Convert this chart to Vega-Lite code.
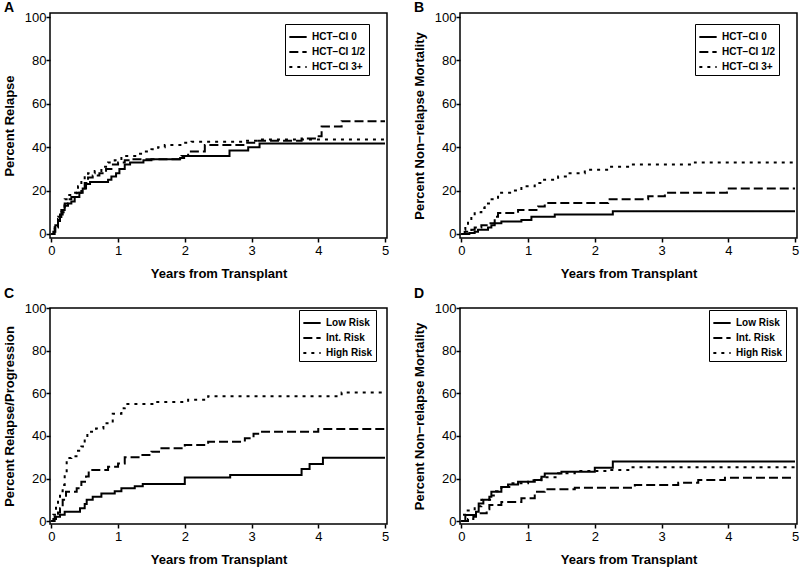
{
  "$schema": "https://vega.github.io/schema/vega-lite/v6.json",
  "background": "white",
  "padding": {"left": 2, "top": 0, "right": 2, "bottom": 2},
  "bounds": "flush",
  "columns": 2,
  "spacing": {"row": 70, "column": 73},
  "resolve": {"scale": {"strokeDash": "independent", "x": "independent", "y": "independent"}, "legend": {"strokeDash": "independent"}, "axis": {"x": "independent", "y": "independent"}},
  "config": {
    "font": "Liberation Sans",
    "view": {"stroke": "black", "strokeWidth": 1.5},
    "axis": {
      "domain": false, "grid": false,
      "tickColor": "black", "tickSize": 4, "tickWidth": 1.5,
      "labelFont": "Liberation Sans", "labelFontSize": 13, "labelColor": "black", "labelPadding": 2,
      "titleFont": "Liberation Sans", "titleFontSize": 13, "titleFontWeight": "bold", "titleColor": "black", "titlePadding": 10
    },
    "axisY": {"labelPadding": 0, "titlePadding": 8},
    "legend": {
      "orient": "none", "title": null,
      "strokeColor": "black", "fillColor": "white", "padding": 3, "rowPadding": 0,
      "labelFont": "Liberation Sans", "labelFontSize": 10, "labelFontWeight": "bold", "labelColor": "black", "labelOffset": 4,
      "symbolType": "stroke", "symbolStrokeWidth": 2, "symbolSize": 300, "symbolStrokeColor": "black"
    },
    "title": {"anchor": "start", "frame": "group", "fontSize": 14, "fontWeight": "bold", "font": "Liberation Sans", "color": "black", "dx": -46, "baseline": "alphabetic"}
  },
  "datasets": {
    "A": [
      {"g": "HCT−CI 0", "t": 0, "p": 0}, {"g": "HCT−CI 0", "t": 0.03, "p": 1}, {"g": "HCT−CI 0", "t": 0.06, "p": 4}, {"g": "HCT−CI 0", "t": 0.1, "p": 6}, {"g": "HCT−CI 0", "t": 0.13, "p": 9}, {"g": "HCT−CI 0", "t": 0.17, "p": 11}, {"g": "HCT−CI 0", "t": 0.2, "p": 13}, {"g": "HCT−CI 0", "t": 0.25, "p": 14}, {"g": "HCT−CI 0", "t": 0.3, "p": 15}, {"g": "HCT−CI 0", "t": 0.35, "p": 17}, {"g": "HCT−CI 0", "t": 0.42, "p": 19}, {"g": "HCT−CI 0", "t": 0.47, "p": 21}, {"g": "HCT−CI 0", "t": 0.52, "p": 23}, {"g": "HCT−CI 0", "t": 0.58, "p": 24}, {"g": "HCT−CI 0", "t": 0.85, "p": 25}, {"g": "HCT−CI 0", "t": 0.9, "p": 26.5}, {"g": "HCT−CI 0", "t": 0.97, "p": 28}, {"g": "HCT−CI 0", "t": 1.02, "p": 30}, {"g": "HCT−CI 0", "t": 1.1, "p": 32}, {"g": "HCT−CI 0", "t": 1.18, "p": 33}, {"g": "HCT−CI 0", "t": 1.38, "p": 34}, {"g": "HCT−CI 0", "t": 1.5, "p": 34.5}, {"g": "HCT−CI 0", "t": 1.93, "p": 35}, {"g": "HCT−CI 0", "t": 1.99, "p": 36}, {"g": "HCT−CI 0", "t": 2.67, "p": 38.5}, {"g": "HCT−CI 0", "t": 2.95, "p": 40}, {"g": "HCT−CI 0", "t": 3.12, "p": 41.7}, {"g": "HCT−CI 0", "t": 5, "p": 41.7},
      {"g": "HCT−CI 1/2", "t": 0, "p": 0}, {"g": "HCT−CI 1/2", "t": 0.05, "p": 3}, {"g": "HCT−CI 1/2", "t": 0.1, "p": 7}, {"g": "HCT−CI 1/2", "t": 0.15, "p": 10}, {"g": "HCT−CI 1/2", "t": 0.2, "p": 14}, {"g": "HCT−CI 1/2", "t": 0.25, "p": 16}, {"g": "HCT−CI 1/2", "t": 0.3, "p": 17}, {"g": "HCT−CI 1/2", "t": 0.38, "p": 19}, {"g": "HCT−CI 1/2", "t": 0.45, "p": 21}, {"g": "HCT−CI 1/2", "t": 0.5, "p": 23.5}, {"g": "HCT−CI 1/2", "t": 0.55, "p": 26}, {"g": "HCT−CI 1/2", "t": 0.62, "p": 27}, {"g": "HCT−CI 1/2", "t": 0.72, "p": 28}, {"g": "HCT−CI 1/2", "t": 0.82, "p": 30}, {"g": "HCT−CI 1/2", "t": 0.9, "p": 32}, {"g": "HCT−CI 1/2", "t": 1.0, "p": 33}, {"g": "HCT−CI 1/2", "t": 1.1, "p": 34}, {"g": "HCT−CI 1/2", "t": 1.2, "p": 34.5}, {"g": "HCT−CI 1/2", "t": 1.95, "p": 36}, {"g": "HCT−CI 1/2", "t": 2.05, "p": 38}, {"g": "HCT−CI 1/2", "t": 2.3, "p": 41}, {"g": "HCT−CI 1/2", "t": 2.9, "p": 42}, {"g": "HCT−CI 1/2", "t": 3.1, "p": 43}, {"g": "HCT−CI 1/2", "t": 3.75, "p": 44}, {"g": "HCT−CI 1/2", "t": 3.95, "p": 45}, {"g": "HCT−CI 1/2", "t": 4.05, "p": 49.5}, {"g": "HCT−CI 1/2", "t": 4.35, "p": 52}, {"g": "HCT−CI 1/2", "t": 5, "p": 52},
      {"g": "HCT−CI 3+", "t": 0, "p": 0}, {"g": "HCT−CI 3+", "t": 0.05, "p": 4}, {"g": "HCT−CI 3+", "t": 0.1, "p": 8}, {"g": "HCT−CI 3+", "t": 0.15, "p": 12}, {"g": "HCT−CI 3+", "t": 0.2, "p": 16}, {"g": "HCT−CI 3+", "t": 0.25, "p": 18}, {"g": "HCT−CI 3+", "t": 0.3, "p": 19}, {"g": "HCT−CI 3+", "t": 0.4, "p": 22}, {"g": "HCT−CI 3+", "t": 0.45, "p": 25}, {"g": "HCT−CI 3+", "t": 0.5, "p": 27}, {"g": "HCT−CI 3+", "t": 0.55, "p": 28}, {"g": "HCT−CI 3+", "t": 0.65, "p": 29}, {"g": "HCT−CI 3+", "t": 0.75, "p": 31}, {"g": "HCT−CI 3+", "t": 0.85, "p": 33}, {"g": "HCT−CI 3+", "t": 0.95, "p": 34}, {"g": "HCT−CI 3+", "t": 1.05, "p": 35}, {"g": "HCT−CI 3+", "t": 1.1, "p": 36}, {"g": "HCT−CI 3+", "t": 1.3, "p": 37}, {"g": "HCT−CI 3+", "t": 1.4, "p": 38}, {"g": "HCT−CI 3+", "t": 1.5, "p": 39}, {"g": "HCT−CI 3+", "t": 1.6, "p": 40}, {"g": "HCT−CI 3+", "t": 1.7, "p": 41}, {"g": "HCT−CI 3+", "t": 1.95, "p": 42}, {"g": "HCT−CI 3+", "t": 2.1, "p": 42.5}, {"g": "HCT−CI 3+", "t": 2.9, "p": 43}, {"g": "HCT−CI 3+", "t": 3.1, "p": 43.5}, {"g": "HCT−CI 3+", "t": 5, "p": 43.5}
    ],
    "B": [
      {"g": "HCT−CI 0", "t": 0, "p": 0}, {"g": "HCT−CI 0", "t": 0.12, "p": 0.5}, {"g": "HCT−CI 0", "t": 0.2, "p": 1}, {"g": "HCT−CI 0", "t": 0.25, "p": 2}, {"g": "HCT−CI 0", "t": 0.4, "p": 3}, {"g": "HCT−CI 0", "t": 0.45, "p": 4}, {"g": "HCT−CI 0", "t": 0.5, "p": 5}, {"g": "HCT−CI 0", "t": 0.6, "p": 5.7}, {"g": "HCT−CI 0", "t": 0.9, "p": 6.5}, {"g": "HCT−CI 0", "t": 1.05, "p": 8}, {"g": "HCT−CI 0", "t": 1.4, "p": 9}, {"g": "HCT−CI 0", "t": 2.27, "p": 10.5}, {"g": "HCT−CI 0", "t": 5, "p": 10.5},
      {"g": "HCT−CI 1/2", "t": 0, "p": 0}, {"g": "HCT−CI 1/2", "t": 0.05, "p": 1}, {"g": "HCT−CI 1/2", "t": 0.15, "p": 2}, {"g": "HCT−CI 1/2", "t": 0.2, "p": 3}, {"g": "HCT−CI 1/2", "t": 0.3, "p": 4}, {"g": "HCT−CI 1/2", "t": 0.4, "p": 5}, {"g": "HCT−CI 1/2", "t": 0.5, "p": 8}, {"g": "HCT−CI 1/2", "t": 0.55, "p": 9.7}, {"g": "HCT−CI 1/2", "t": 0.85, "p": 11}, {"g": "HCT−CI 1/2", "t": 1.15, "p": 12.7}, {"g": "HCT−CI 1/2", "t": 1.25, "p": 14.3}, {"g": "HCT−CI 1/2", "t": 2.2, "p": 16}, {"g": "HCT−CI 1/2", "t": 2.8, "p": 17.4}, {"g": "HCT−CI 1/2", "t": 3.05, "p": 19}, {"g": "HCT−CI 1/2", "t": 3.98, "p": 21}, {"g": "HCT−CI 1/2", "t": 5, "p": 21},
      {"g": "HCT−CI 3+", "t": 0, "p": 0}, {"g": "HCT−CI 3+", "t": 0.03, "p": 2}, {"g": "HCT−CI 3+", "t": 0.06, "p": 4}, {"g": "HCT−CI 3+", "t": 0.1, "p": 6}, {"g": "HCT−CI 3+", "t": 0.15, "p": 8}, {"g": "HCT−CI 3+", "t": 0.2, "p": 10}, {"g": "HCT−CI 3+", "t": 0.3, "p": 12}, {"g": "HCT−CI 3+", "t": 0.35, "p": 14}, {"g": "HCT−CI 3+", "t": 0.43, "p": 16}, {"g": "HCT−CI 3+", "t": 0.55, "p": 19}, {"g": "HCT−CI 3+", "t": 0.75, "p": 20}, {"g": "HCT−CI 3+", "t": 0.9, "p": 22}, {"g": "HCT−CI 3+", "t": 1.1, "p": 23.5}, {"g": "HCT−CI 3+", "t": 1.2, "p": 25}, {"g": "HCT−CI 3+", "t": 1.45, "p": 26.5}, {"g": "HCT−CI 3+", "t": 1.6, "p": 28}, {"g": "HCT−CI 3+", "t": 1.85, "p": 29.6}, {"g": "HCT−CI 3+", "t": 2.2, "p": 31}, {"g": "HCT−CI 3+", "t": 2.55, "p": 32}, {"g": "HCT−CI 3+", "t": 3.5, "p": 33}, {"g": "HCT−CI 3+", "t": 5, "p": 33}
    ],
    "C": [
      {"g": "Low Risk", "t": 0, "p": 0}, {"g": "Low Risk", "t": 0.03, "p": 1}, {"g": "Low Risk", "t": 0.07, "p": 2}, {"g": "Low Risk", "t": 0.13, "p": 3}, {"g": "Low Risk", "t": 0.2, "p": 4.4}, {"g": "Low Risk", "t": 0.43, "p": 6}, {"g": "Low Risk", "t": 0.5, "p": 8}, {"g": "Low Risk", "t": 0.53, "p": 10}, {"g": "Low Risk", "t": 0.62, "p": 11.4}, {"g": "Low Risk", "t": 0.75, "p": 13}, {"g": "Low Risk", "t": 0.95, "p": 14}, {"g": "Low Risk", "t": 1.05, "p": 15.4}, {"g": "Low Risk", "t": 1.25, "p": 16.3}, {"g": "Low Risk", "t": 1.37, "p": 17.4}, {"g": "Low Risk", "t": 2.0, "p": 20.5}, {"g": "Low Risk", "t": 2.68, "p": 21.6}, {"g": "Low Risk", "t": 3.75, "p": 24.5}, {"g": "Low Risk", "t": 3.87, "p": 26.8}, {"g": "Low Risk", "t": 4.07, "p": 29.8}, {"g": "Low Risk", "t": 5, "p": 29.8},
      {"g": "Int. Risk", "t": 0, "p": 0}, {"g": "Int. Risk", "t": 0.05, "p": 2}, {"g": "Int. Risk", "t": 0.1, "p": 4}, {"g": "Int. Risk", "t": 0.13, "p": 6}, {"g": "Int. Risk", "t": 0.17, "p": 10}, {"g": "Int. Risk", "t": 0.22, "p": 13.8}, {"g": "Int. Risk", "t": 0.38, "p": 15.4}, {"g": "Int. Risk", "t": 0.45, "p": 18.5}, {"g": "Int. Risk", "t": 0.52, "p": 21}, {"g": "Int. Risk", "t": 0.56, "p": 24}, {"g": "Int. Risk", "t": 0.85, "p": 25.5}, {"g": "Int. Risk", "t": 1.0, "p": 27}, {"g": "Int. Risk", "t": 1.1, "p": 30}, {"g": "Int. Risk", "t": 1.35, "p": 31}, {"g": "Int. Risk", "t": 1.5, "p": 32.6}, {"g": "Int. Risk", "t": 1.65, "p": 34.2}, {"g": "Int. Risk", "t": 2.0, "p": 35.8}, {"g": "Int. Risk", "t": 2.35, "p": 37.3}, {"g": "Int. Risk", "t": 2.9, "p": 38.9}, {"g": "Int. Risk", "t": 3.03, "p": 41}, {"g": "Int. Risk", "t": 3.12, "p": 42}, {"g": "Int. Risk", "t": 4.0, "p": 43.3}, {"g": "Int. Risk", "t": 5, "p": 43.3},
      {"g": "High Risk", "t": 0, "p": 0}, {"g": "High Risk", "t": 0.03, "p": 3}, {"g": "High Risk", "t": 0.07, "p": 7}, {"g": "High Risk", "t": 0.1, "p": 10}, {"g": "High Risk", "t": 0.13, "p": 14}, {"g": "High Risk", "t": 0.17, "p": 17}, {"g": "High Risk", "t": 0.2, "p": 22}, {"g": "High Risk", "t": 0.23, "p": 29.6}, {"g": "High Risk", "t": 0.3, "p": 30.5}, {"g": "High Risk", "t": 0.4, "p": 33}, {"g": "High Risk", "t": 0.45, "p": 35}, {"g": "High Risk", "t": 0.5, "p": 39}, {"g": "High Risk", "t": 0.54, "p": 42}, {"g": "High Risk", "t": 0.67, "p": 43.5}, {"g": "High Risk", "t": 0.78, "p": 46}, {"g": "High Risk", "t": 0.92, "p": 50.5}, {"g": "High Risk", "t": 1.05, "p": 53}, {"g": "High Risk", "t": 1.1, "p": 55}, {"g": "High Risk", "t": 1.55, "p": 56}, {"g": "High Risk", "t": 2.05, "p": 57}, {"g": "High Risk", "t": 2.35, "p": 58.7}, {"g": "High Risk", "t": 4.35, "p": 60.5}, {"g": "High Risk", "t": 5, "p": 60.5}
    ],
    "D": [
      {"g": "Low Risk", "t": 0, "p": 0}, {"g": "Low Risk", "t": 0.06, "p": 2.8}, {"g": "Low Risk", "t": 0.22, "p": 4.4}, {"g": "Low Risk", "t": 0.26, "p": 8.3}, {"g": "Low Risk", "t": 0.33, "p": 10}, {"g": "Low Risk", "t": 0.42, "p": 11.4}, {"g": "Low Risk", "t": 0.45, "p": 13.8}, {"g": "Low Risk", "t": 0.6, "p": 16}, {"g": "Low Risk", "t": 0.7, "p": 17.2}, {"g": "Low Risk", "t": 0.85, "p": 18.5}, {"g": "Low Risk", "t": 1.1, "p": 19.3}, {"g": "Low Risk", "t": 1.2, "p": 20.8}, {"g": "Low Risk", "t": 1.25, "p": 22.4}, {"g": "Low Risk", "t": 1.5, "p": 23.2}, {"g": "Low Risk", "t": 2.0, "p": 25}, {"g": "Low Risk", "t": 2.27, "p": 28}, {"g": "Low Risk", "t": 5, "p": 28},
      {"g": "Int. Risk", "t": 0, "p": 0}, {"g": "Int. Risk", "t": 0.1, "p": 1}, {"g": "Int. Risk", "t": 0.18, "p": 2}, {"g": "Int. Risk", "t": 0.22, "p": 3.6}, {"g": "Int. Risk", "t": 0.38, "p": 5.5}, {"g": "Int. Risk", "t": 0.42, "p": 7.5}, {"g": "Int. Risk", "t": 0.6, "p": 9}, {"g": "Int. Risk", "t": 0.9, "p": 10.7}, {"g": "Int. Risk", "t": 1.1, "p": 13.8}, {"g": "Int. Risk", "t": 1.25, "p": 15}, {"g": "Int. Risk", "t": 1.7, "p": 15.7}, {"g": "Int. Risk", "t": 2.6, "p": 17}, {"g": "Int. Risk", "t": 3.25, "p": 18}, {"g": "Int. Risk", "t": 3.55, "p": 19.3}, {"g": "Int. Risk", "t": 3.95, "p": 20.4}, {"g": "Int. Risk", "t": 5, "p": 20.4},
      {"g": "High Risk", "t": 0, "p": 0}, {"g": "High Risk", "t": 0.04, "p": 3}, {"g": "High Risk", "t": 0.08, "p": 5}, {"g": "High Risk", "t": 0.2, "p": 7}, {"g": "High Risk", "t": 0.3, "p": 10}, {"g": "High Risk", "t": 0.45, "p": 12}, {"g": "High Risk", "t": 0.52, "p": 14}, {"g": "High Risk", "t": 0.6, "p": 16}, {"g": "High Risk", "t": 0.75, "p": 17.8}, {"g": "High Risk", "t": 1.0, "p": 19.2}, {"g": "High Risk", "t": 1.2, "p": 20.6}, {"g": "High Risk", "t": 1.45, "p": 22.5}, {"g": "High Risk", "t": 1.7, "p": 23.5}, {"g": "High Risk", "t": 2.2, "p": 24}, {"g": "High Risk", "t": 2.55, "p": 25.3}, {"g": "High Risk", "t": 5, "p": 25.3}
    ]
  },
  "concat": [
    {
      "width": 337, "height": 225,
      "title": {"text": "A", "offset": -4},
      "data": {"name": "A"},
      "mark": {"type": "line", "interpolate": "step-after", "color": "black", "strokeWidth": 2},
      "encoding": {
        "x": {"field": "t", "type": "quantitative", "scale": {"domain": [-0.02, 5.03], "nice": false, "zero": false}, "axis": {"values": [0, 1, 2, 3, 4, 5], "title": "Years from Transplant"}},
        "y": {"field": "p", "type": "quantitative", "scale": {"domain": [-1.85, 101.85], "nice": false, "zero": false}, "axis": {"values": [0, 20, 40, 60, 80, 100], "title": "Percent Relapse"}},
        "strokeDash": {"field": "g", "type": "nominal", "scale": {"domain": ["HCT−CI 0", "HCT−CI 1/2", "HCT−CI 3+"], "range": [[1, 0], [9, 4], [3, 5]]}, "legend": {"legendX": 235, "legendY": 11}}
      }
    },
    {
      "width": 337, "height": 225,
      "title": {"text": "B", "offset": -4},
      "data": {"name": "B"},
      "mark": {"type": "line", "interpolate": "step-after", "color": "black", "strokeWidth": 2},
      "encoding": {
        "x": {"field": "t", "type": "quantitative", "scale": {"domain": [-0.02, 5.03], "nice": false, "zero": false}, "axis": {"values": [0, 1, 2, 3, 4, 5], "title": "Years from Transplant"}},
        "y": {"field": "p", "type": "quantitative", "scale": {"domain": [-1.85, 101.85], "nice": false, "zero": false}, "axis": {"values": [0, 20, 40, 60, 80, 100], "title": "Percent Non−relapse Mortality"}},
        "strokeDash": {"field": "g", "type": "nominal", "scale": {"domain": ["HCT−CI 0", "HCT−CI 1/2", "HCT−CI 3+"], "range": [[1, 0], [9, 4], [3, 5]]}, "legend": {"legendX": 235, "legendY": 11}}
      }
    },
    {
      "width": 337, "height": 216,
      "title": {"text": "C", "offset": 1},
      "data": {"name": "C"},
      "mark": {"type": "line", "interpolate": "step-after", "color": "black", "strokeWidth": 2},
      "encoding": {
        "x": {"field": "t", "type": "quantitative", "scale": {"domain": [-0.02, 5.03], "nice": false, "zero": false}, "axis": {"values": [0, 1, 2, 3, 4, 5], "title": "Years from Transplant"}},
        "y": {"field": "p", "type": "quantitative", "scale": {"domain": [-1.4, 100.2], "nice": false, "zero": false}, "axis": {"values": [0, 20, 40, 60, 80, 100], "title": "Percent Relapse/Progression"}},
        "strokeDash": {"field": "g", "type": "nominal", "scale": {"domain": ["Low Risk", "Int. Risk", "High Risk"], "range": [[1, 0], [9, 4], [3, 5]]}, "legend": {"legendX": 249, "legendY": 2}}
      }
    },
    {
      "width": 337, "height": 216,
      "title": {"text": "D", "offset": 1},
      "data": {"name": "D"},
      "mark": {"type": "line", "interpolate": "step-after", "color": "black", "strokeWidth": 2},
      "encoding": {
        "x": {"field": "t", "type": "quantitative", "scale": {"domain": [-0.02, 5.03], "nice": false, "zero": false}, "axis": {"values": [0, 1, 2, 3, 4, 5], "title": "Years from Transplant"}},
        "y": {"field": "p", "type": "quantitative", "scale": {"domain": [-1.4, 100.2], "nice": false, "zero": false}, "axis": {"values": [0, 20, 40, 60, 80, 100], "title": "Percent Non−relapse Mortality"}},
        "strokeDash": {"field": "g", "type": "nominal", "scale": {"domain": ["Low Risk", "Int. Risk", "High Risk"], "range": [[1, 0], [9, 4], [3, 5]]}, "legend": {"legendX": 249, "legendY": 2}}
      }
    }
  ]
}
